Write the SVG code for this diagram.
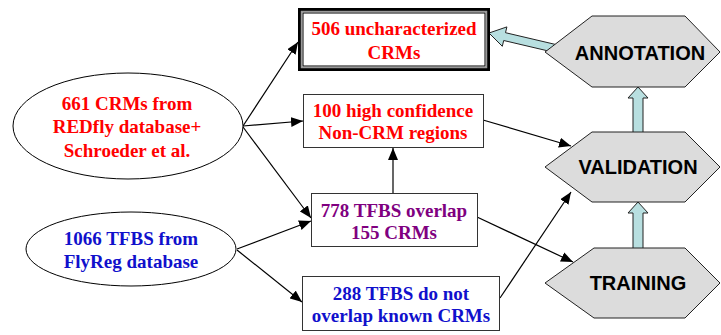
<svg xmlns="http://www.w3.org/2000/svg" width="721" height="335" viewBox="0 0 721 335">
<defs>
<marker id="ah" markerUnits="userSpaceOnUse" markerWidth="13" markerHeight="10" refX="12" refY="5" orient="auto">
<path d="M0,0 L12,5 L0,10 z" fill="#000"/>
</marker>
<style>
.t{font-family:"Liberation Serif","Times New Roman",serif;font-weight:bold;font-size:19px;text-anchor:middle}
.h{font-family:"Liberation Sans",Arial,sans-serif;font-weight:bold;font-size:20px;text-anchor:middle;fill:#000}
.red{fill:#ff0000}.blue{fill:#1010cc}.pur{fill:#800080}
.box{fill:#fff;stroke:#333;stroke-width:1}
.ell{fill:#fff;stroke:#000;stroke-width:1}
.hex{fill:#dcdcdc;stroke:#222;stroke-width:1}
.blk{fill:#b8dfe0;stroke:#222;stroke-width:1}
.c{stroke:#000;stroke-width:1.2;fill:none;marker-end:url(#ah)}
</style>
</defs>
<rect width="721" height="335" fill="#fff"/>

<g id="connectors">
<line class="c" x1="243" y1="126" x2="298" y2="42"/>
<line class="c" x1="243" y1="126" x2="303" y2="121"/>
<line class="c" x1="243" y1="127" x2="311" y2="218"/>
<line class="c" x1="237" y1="249" x2="311" y2="221"/>
<line class="c" x1="237" y1="250" x2="302" y2="302"/>
<line class="c" x1="393" y1="193" x2="393" y2="148"/>
<line class="c" x1="483" y1="120" x2="571" y2="146"/>
<line class="c" x1="477" y1="217" x2="573" y2="262"/>
<line class="c" x1="500" y1="298" x2="571" y2="192"/>
<path class="blk" d="M489,33 L506.9,26.9 L505.5,32.7 L560,45.5 L558.2,53.3 L503.7,40.5 L502.3,46.3 Z"/>
<path class="blk" d="M638,87 L648,98 L643,98 L643,133 L633,133 L633,98 L628,98 Z"/>
<path class="blk" d="M638,202 L648,213 L643,213 L643,249 L633,249 L633,213 L628,213 Z"/>
</g>

<g id="n506">
<rect x="299.5" y="9.5" width="189" height="60" fill="#fff" stroke="#000" stroke-width="3"/>
<rect x="301.5" y="11.5" width="185" height="56" fill="none" stroke="#999" stroke-width="1.5"/>
<rect x="303" y="13" width="182" height="53" fill="none" stroke="#000" stroke-width="1"/>
<text class="t red" x="394" y="35">506 uncharacterized</text>
<text class="t red" x="394" y="59">CRMs</text>
</g>

<g id="n661">
<ellipse class="ell" cx="128" cy="126" rx="115" ry="53"/>
<text class="t red" x="127" y="110">661 CRMs from</text>
<text class="t red" x="127" y="133">REDfly database+</text>
<text class="t red" x="127" y="157">Schroeder et al.</text>
</g>

<g id="n100">
<rect class="box" x="303.5" y="94.5" width="180" height="53"/>
<text class="t red" x="393" y="117">100 high confidence</text>
<text class="t red" x="393" y="139">Non-CRM regions</text>
</g>

<g id="n778">
<rect class="box" x="311.5" y="193.5" width="166" height="53"/>
<text class="t pur" x="394" y="217">778 TFBS overlap</text>
<text class="t pur" x="394" y="239">155 CRMs</text>
</g>

<g id="n1066">
<ellipse class="ell" cx="131" cy="249" rx="105" ry="37"/>
<text class="t blue" x="131" y="245">1066 TFBS from</text>
<text class="t blue" x="131" y="268">FlyReg database</text>
</g>

<g id="n288">
<rect class="box" x="302.5" y="276.5" width="197" height="54"/>
<text class="t blue" x="401" y="300">288 TFBS do not</text>
<text class="t blue" x="401" y="322">overlap known CRMs</text>
</g>

<g id="annotation">
<polygon class="hex" points="545,52 592,16 685,16 720,52 685,87 592,87"/>
<text class="h" x="640" y="60">ANNOTATION</text>
</g>

<g id="validation">
<polygon class="hex" points="545,167 592,132 685,132 720,167 685,202 592,202"/>
<text class="h" x="638" y="174">VALIDATION</text>
</g>

<g id="training">
<polygon class="hex" points="545,283 594,248 685,248 720,283 685,318 594,318"/>
<text class="h" x="638" y="290">TRAINING</text>
</g>
</svg>
